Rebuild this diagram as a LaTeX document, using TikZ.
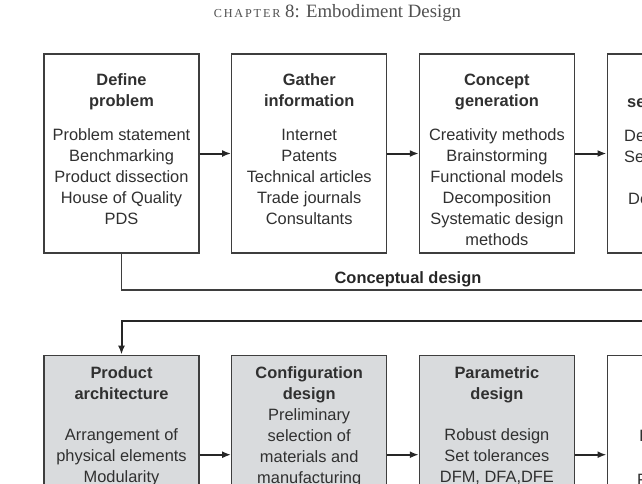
\documentclass[tikz,border=0pt]{standalone}
\usepackage{fontspec}
\setmainfont{Liberation Sans}
\newfontfamily\headfont{Liberation Serif}
\usepackage{tikz}
\usetikzlibrary{arrows.meta, positioning}
\definecolor{myline}{RGB}{62,62,62}
\definecolor{mydark}{RGB}{38,38,38}
\definecolor{mytext}{RGB}{48,48,48}
\definecolor{mygray}{RGB}{217,219,221}
\definecolor{myhead}{RGB}{80,80,80}
\tikzset{
  block/.style={rectangle, draw=myline, fill=white, line width=1.2pt,
    minimum width=155pt, minimum height=199pt, inner sep=0pt},
  grayblock/.style={block, fill=mygray},
  blocktext/.style={align=center, inner sep=0pt, text=mytext,
    font=\fontsize{16.4}{21}\selectfont},
  cuttext/.style={anchor=base west, inner sep=0pt, text=mytext,
    font=\fontsize{16.4}{21}\selectfont},
  arrow/.style={-{Latex[length=9pt,width=7pt]}, line width=2pt, color=mydark},
  line/.style={line width=1.4pt, color=myline}
}

\begin{document}
\begin{tikzpicture}[x=1pt, y=-1pt, node distance=31.5pt]
  \useasboundingbox (0,0) rectangle (642,483);
  \clip (0,0) rectangle (642,483);

  \node [anchor=base, inner sep=0pt, text=myhead, font=\headfont\fontsize{18.8}{22}\selectfont] (head) at (337.5,17)
    {{\addfontfeature{LetterSpace=15}\fontsize{12.2}{14}\selectfont CHAPTER} 8: Embodiment Design};

  % conceptual design row
  \node [block] (define) at (121.5,153.5) {};
  \node [block, right=of define] (gather) {};
  \node [block, right=of gather] (generate) {};
  \node [block, right=of generate] (select) {};

  \node [blocktext, below=20pt of define.north] (define-t)
    {\textbf{Define}\\\textbf{problem}\\[13pt]Problem statement\\Benchmarking\\Product dissection\\House of Quality\\PDS};
  \node [blocktext, below=20pt of gather.north] (gather-t)
    {\textbf{Gather}\\\textbf{information}\\[13pt]Internet\\Patents\\Technical articles\\Trade journals\\Consultants};
  \node [blocktext, below=20pt of generate.north] (generate-t)
    {\textbf{Concept}\\\textbf{generation}\\[13pt]Creativity methods\\Brainstorming\\Functional models\\Decomposition\\Systematic design\\methods};
  \node [cuttext, font=\fontsize{16.4}{21}\selectfont\bfseries] (select-t1) at (627,107) {se};
  \node [cuttext] (select-t2) at (624,141) {De};
  \node [cuttext] (select-t3) at (624,162) {Se};
  \node [cuttext] (select-t4) at (628,204) {De};

  \draw [arrow] (define) -- (gather);
  \draw [arrow] (gather) -- (generate);
  \draw [arrow] (generate) -- (select);

  \coordinate (cd-end) at (660,290);
  \coordinate (ret-start) at (660,321);
  \draw [line] (define.south) |- (cd-end)
    node [pos=0.766, above=2.5pt, inner sep=0pt, text=mydark, font=\fontsize{16.4}{21}\selectfont\bfseries] (cd-label) {Conceptual design};

  % embodiment row
  \node [grayblock, below=101pt of define] (archi) {};
  \node [grayblock, right=of archi] (config) {};
  \node [grayblock, right=of config] (param) {};
  \node [block, right=of param] (detail) {};

  \node [blocktext, below=12pt of archi.north] (archi-t)
    {\textbf{Product}\\\textbf{architecture}\\[20pt]Arrangement of\\physical elements\\Modularity};
  \node [blocktext, below=12pt of config.north] (config-t)
    {\textbf{Configuration}\\\textbf{design}\\Preliminary\\selection of\\materials and\\manufacturing};
  \node [blocktext, below=12pt of param.north] (param-t)
    {\textbf{Parametric}\\\textbf{design}\\[20pt]Robust design\\Set tolerances\\DFM, DFA,DFE};
  \node [cuttext] (detail-t1) at (639,441) {I};
  \node [cuttext] (detail-t2) at (637,485) {F};

  \draw [arrow] (ret-start) -| (archi.north);
  \draw [arrow] (archi) -- (config);
  \draw [arrow] (config) -- (param);
  \draw [arrow] (param) -- (detail);
\end{tikzpicture}
\end{document}
